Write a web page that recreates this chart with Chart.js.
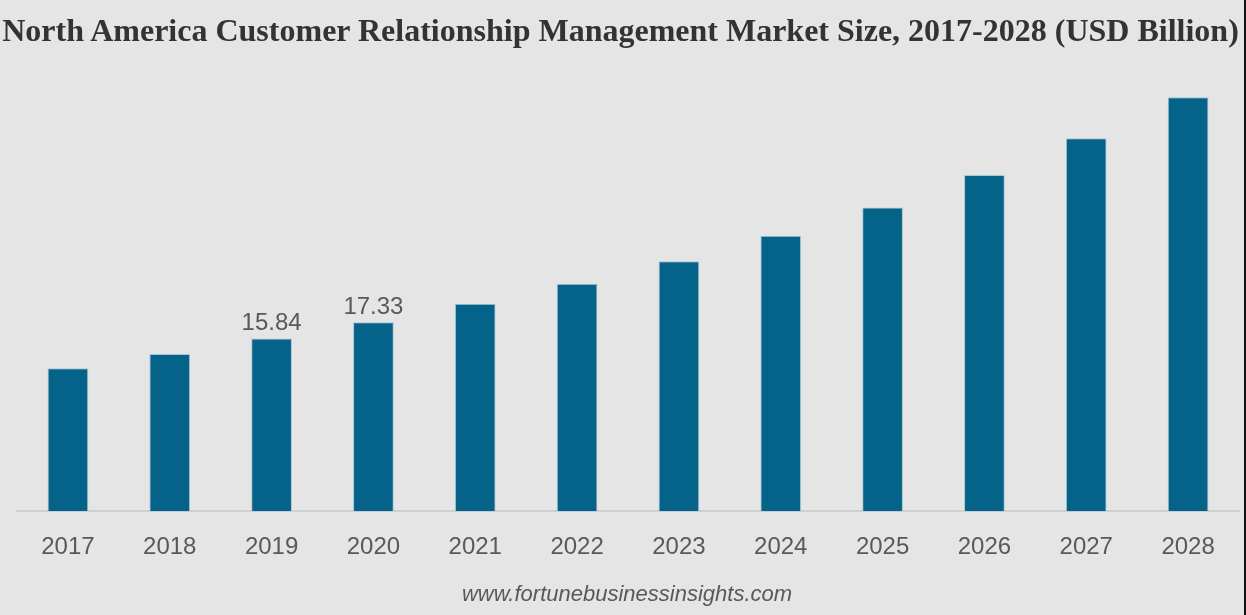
<!DOCTYPE html>
<html>
<head>
<meta charset="utf-8">
<title>North America CRM Market Size</title>
<script src="https://cdn.jsdelivr.net/npm/chart.js@4/dist/chart.umd.min.js"></script>
<style>
  html, body { margin: 0; padding: 0; background: #e5e5e5; }
  #wrap {
    position: relative;
    width: 1244px;
    height: 615px;
    border-right: 2px solid #111;
    background: #e5e5e5;
    overflow: hidden;
  }
  #title {
    position: absolute;
    left: 0; top: 14px; width: 1241px;
    text-align: center;
    font: bold 32px/32px "Liberation Serif", "Times New Roman", serif;
    color: #333;
    white-space: nowrap;
  }
  #source {
    position: absolute;
    left: 5px; top: 583px; width: 1244px;
    text-align: center;
    font: italic 22px/22px "Liberation Sans", Arial, sans-serif;
    color: #595959;
  }
  canvas { position: absolute; left: 0; top: 0; }
</style>
</head>
<body>
<div id="wrap">
  <canvas id="crmChart" width="1244" height="615"></canvas>
  <div id="title">North America Customer Relationship Management Market Size, 2017-2028 (USD Billion)</div>
  <div id="source">www.fortunebusinessinsights.com</div>
</div>

<script>
// ------------------ Data ------------------
const years = ["2017", "2018", "2019", "2020", "2021", "2022", "2023", "2024", "2025", "2026", "2027", "2028"];
const marketSize = [13.12, 14.42, 15.84, 17.33, 19.03, 20.86, 22.93, 25.25, 27.86, 30.82, 34.2, 37.95];
// only these years carry a value label in the original
const labelledYears = ["2019", "2020"];

// ------------------ Value labels ------------------
const valueLabels = {
  id: "valueLabels",
  afterDatasetsDraw(chart) {
    const ctx = chart.ctx;
    const meta = chart.getDatasetMeta(0);
    ctx.save();
    ctx.font = "24px 'Liberation Sans', Arial, sans-serif";
    ctx.fillStyle = "#595959";
    ctx.textAlign = "center";
    ctx.textBaseline = "alphabetic";
    meta.data.forEach((bar, i) => {
      if (labelledYears.includes(years[i])) {
        ctx.fillText(marketSize[i].toFixed(2), bar.x, bar.y - 8);
      }
    });
    ctx.restore();
  }
};

// ------------------ Chart ------------------
new Chart(document.getElementById("crmChart"), {
  type: "bar",
  data: {
    labels: years,
    datasets: [{
      label: "Market Size (USD Billion)",
      data: marketSize,
      backgroundColor: "#05638a",
      borderColor: "rgba(150,190,210,0.8)",
      borderWidth: 1,
      barPercentage: 0.4,
      categoryPercentage: 1
    }]
  },
  options: {
    responsive: false,
    animation: false,
    layout: { padding: { left: 17, right: 5, top: 75, bottom: 31 } },
    plugins: {
      legend: { display: false },
      tooltip: { enabled: false }
    },
    scales: {
      x: {
        grid: { display: false, drawTicks: false },
        border: { display: true, color: "#cfcfcf", width: 2 },
        ticks: {
          padding: 22,
          color: "#595959",
          font: { family: "'Liberation Sans', Arial, sans-serif", size: 24 }
        }
      },
      y: {
        display: false,
        min: 0,
        max: 40
      }
    }
  },
  plugins: [valueLabels]
});
</script>
</body>
</html>
